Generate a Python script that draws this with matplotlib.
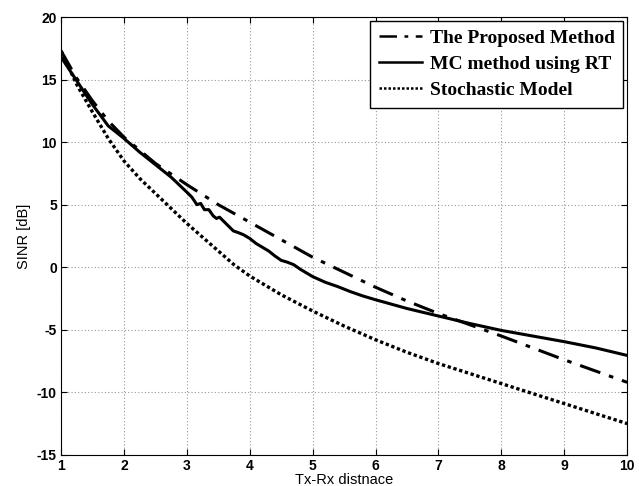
#import library
import matplotlib
matplotlib.use("Agg")
import matplotlib.pyplot as plt

plt.rcParams["axes.unicode_minus"] = False

#define datasets
proposed_x = [1.0, 1.25, 1.5, 1.75, 2.0, 2.5, 3.0, 3.5, 4.0, 4.5, 5.0,
              5.5, 6.0, 6.5, 7.0, 7.5, 8.0, 8.5, 9.0, 9.5, 10.0]
proposed_y = [17.3, 15.1, 13.3, 11.7, 10.4, 8.3, 6.6, 5.0, 3.6, 2.2, 0.8,
              -0.4, -1.6, -2.7, -3.7, -4.6, -5.5, -6.45, -7.4, -8.3, -9.2]

mc_x = [1.0, 1.25, 1.5, 1.75, 2.0, 2.25, 2.5, 2.75, 3.0, 3.08, 3.16, 3.22,
        3.28, 3.35, 3.42, 3.47, 3.52, 3.58, 3.66, 3.74, 3.8, 3.9, 4.0, 4.1,
        4.2, 4.3, 4.4, 4.5, 4.6, 4.7, 4.8, 4.9, 5.0, 5.2, 5.4, 5.6, 5.8, 6.0,
        6.5, 7.0, 7.5, 8.0, 8.5, 9.0, 9.5, 10.0]
mc_y = [16.8, 14.9, 13.0, 11.3, 10.3, 9.2, 8.2, 7.2, 6.0, 5.6, 5.0, 5.1,
        4.6, 4.6, 4.1, 3.9, 4.0, 3.7, 3.3, 2.9, 2.8, 2.6, 2.3, 1.9,
        1.6, 1.3, 0.9, 0.55, 0.4, 0.2, -0.15, -0.45, -0.75, -1.2, -1.55, -1.95, -2.3, -2.6,
        -3.3, -3.9, -4.5, -5.05, -5.5, -5.95, -6.45, -7.05]

stoch_x = [1.0, 1.25, 1.5, 1.75, 2.0, 2.25, 2.5, 2.75, 3.0, 3.25, 3.5, 3.75,
           4.0, 4.5, 5.0, 5.5, 6.0, 6.5, 7.0, 7.5, 8.0, 8.5, 9.0, 9.5, 10.0]
stoch_y = [17.3, 14.6, 12.4, 10.3, 8.5, 7.1, 5.9, 4.7, 3.5, 2.4, 1.3, 0.2,
           -0.7, -2.2, -3.5, -4.7, -5.8, -6.8, -7.7, -8.5, -9.3, -10.1, -10.9, -11.7, -12.5]

x_ticks = [1, 2, 3, 4, 5, 6, 7, 8, 9, 10]
y_ticks = [-15, -10, -5, 0, 5, 10, 15, 20]

#define fig and plot size
fig = plt.figure(figsize=(6.39, 4.86), dpi=100)
ax = fig.add_axes([0.0955, 0.064, 0.886, 0.901])

#draw curves
ax.plot(proposed_x, proposed_y, color="black", linewidth=2.2,
        linestyle=(0, (7, 3, 1.5, 3)), label="The Proposed Method")
ax.plot(mc_x, mc_y, color="black", linewidth=2.2,
        linestyle="-", label="MC method using RT")
ax.plot(stoch_x, stoch_y, color="black", linewidth=2.4,
        linestyle=(0, (1, 0.8)), label="Stochastic Model")

#define limits and ticks
ax.set_xlim(1, 10)
ax.set_ylim(-15, 20)
ax.set_xticks(x_ticks)
ax.set_yticks(y_ticks)
ax.tick_params(direction="in", top=True, right=True, length=4,
               labelsize=10, pad=3)
for lbl in ax.get_xticklabels() + ax.get_yticklabels():
    lbl.set_fontweight("bold")
    lbl.set_family("Liberation Sans")

#define labels
ax.set_xlabel("Tx-Rx distnace", fontsize=10.5, family="Liberation Sans", labelpad=0)
ax.set_ylabel("SINR [dB]", fontsize=10.5, family="Liberation Sans", labelpad=4)

#enable grid
ax.grid(True, color="#999999", linestyle=(0, (1, 2)), linewidth=0.8)

#define legend
leg = ax.legend(loc="upper right", fancybox=False, edgecolor="black",
                framealpha=1, handlelength=2.2, borderpad=0.45,
                labelspacing=0.42, borderaxespad=0.2, handletextpad=0.4,
                prop={"family": "Liberation Serif", "weight": "bold", "size": 14})
leg.get_frame().set_linewidth(1.0)
for line in leg.get_lines():
    line.set_linewidth(1.8)

plt.savefig("out.png", dpi=100)
